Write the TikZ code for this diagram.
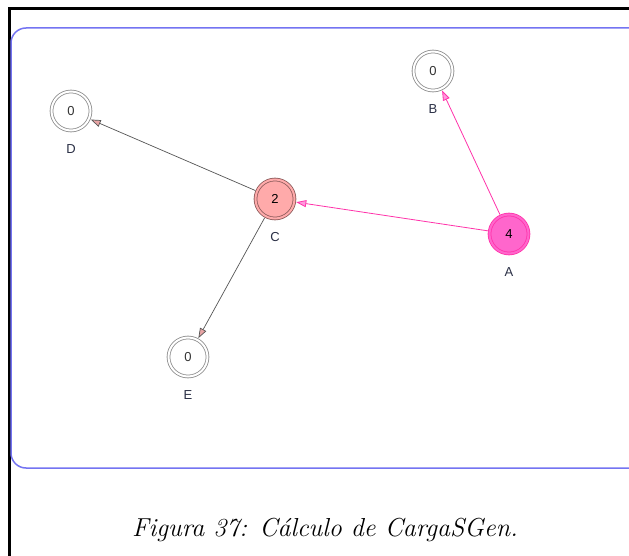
\documentclass[tikz,border=0pt]{standalone}
\usepackage{fontspec}
\newfontfamily\graphfont{Liberation Sans}
\usetikzlibrary{arrows.meta,positioning}
\definecolor{Frame}{HTML}{7474F2}
\definecolor{Ring}{HTML}{8C8C8C}
\definecolor{Ink}{HTML}{333333}
\definecolor{LabelInk}{HTML}{2A2F45}
\definecolor{Rose}{HTML}{FFAAAA}
\definecolor{RoseEdge}{HTML}{8C5B5B}
\definecolor{Hot}{HTML}{FF66CC}
\definecolor{HotEdge}{HTML}{FF33AA}
\definecolor{Wire}{HTML}{555555}
\definecolor{TipFill}{HTML}{E8A5A5}
\definecolor{HotTip}{HTML}{FF99DD}
\tikzset{
  vert/.style={circle,draw=Ring,double=white,double distance=2pt,line width=.8pt,fill=white,minimum size=39pt,inner sep=0pt,outer sep=2pt,font=\graphfont\fontsize{13}{15}\selectfont,text=Ink},
  rosevert/.style={vert,draw=RoseEdge,double=Rose,fill=Rose,text=black},
  hotvert/.style={vert,draw=HotEdge,double=Hot,fill=Hot,text=black},
  tag/.style={inner sep=0pt,font=\graphfont\fontsize{13}{15}\selectfont,text=LabelInk},
  wire/.style={draw=Wire,line width=.7pt,-{Triangle[length=10pt,width=7pt,fill=TipFill]}},
  hotwire/.style={draw=HotEdge,line width=.8pt,-{Triangle[length=10pt,width=7pt,fill=HotTip]}}
}

\begin{document}
\begin{tikzpicture}[x=1pt,y=-1pt]
        \clip (0,0) rectangle (629,556);
        \fill[white] (0,0) rectangle (629,556);
        \draw[line width=3pt] (9,570) -- (9,9) -- (640,9);
        \draw[draw=Frame,line width=1.5pt,rounded corners=15pt] (11,28) rectangle (650,468);
        \node[vert] (b) at (433,71) {0};
        \node[vert] (d) at (71,111) {0};
        \node[rosevert] (c) at (275,199) {2};
        \node[hotvert] (a) at (509,234) {4};
        \node[vert] (e) at (188,357) {0};
        \node[tag,below=12pt of b] (lb) {B};
        \node[tag,below=12pt of d] (ld) {D};
        \node[tag,below=12pt of c] (lc) {C};
        \node[tag,below=12pt of a] (la) {A};
        \node[tag,below=12pt of e] (le) {E};
        \draw[wire] (c) -- (d);
        \draw[wire] (c) -- (e);
        \draw[hotwire] (a) -- (c);
        \draw[hotwire] (a) -- (b);
        \node[font=\fontsize{26}{30}\selectfont\itshape] (cap) at (325,530) {Figura 37: Cálculo de CargaSGen.};
      \end{tikzpicture}
\end{document}
